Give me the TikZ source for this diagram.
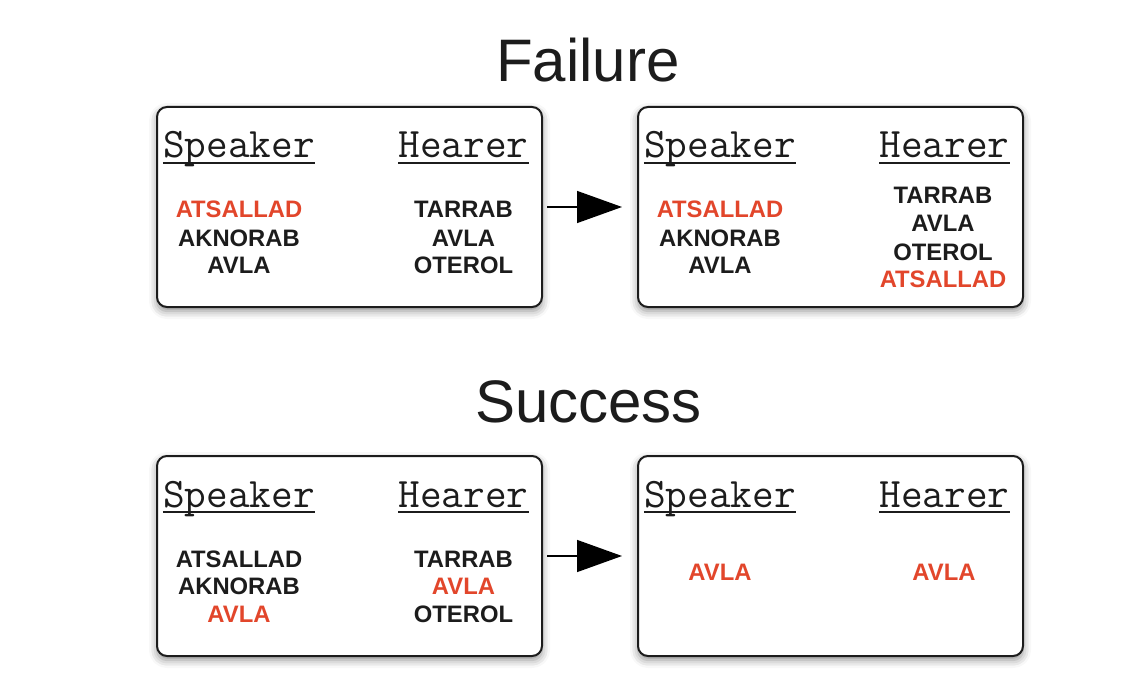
\documentclass[tikz,border=0pt]{standalone}
\usepackage{fontspec}
\setmainfont{Liberation Sans}
\usetikzlibrary{arrows.meta,shadows.blur}

\definecolor{inkblack}{RGB}{28,28,28}
\definecolor{wordred}{RGB}{226,70,43}

\tikzset{
  panel/.style={draw=inkblack,line width=1pt,rounded corners=5pt,fill=white,
    minimum width=192.5pt,minimum height=100pt,inner sep=0pt,
    blur shadow={shadow xshift=0pt,shadow yshift=-2pt,shadow blur radius=4pt,shadow opacity=45}},
  title/.style={font=\fontsize{30}{36}\selectfont,text=inkblack,anchor=base},
  hdr/.style={font=\ttfamily\fontsize{21}{25}\selectfont,text=inkblack,inner sep=0pt,anchor=base},
  word/.style={font=\bfseries\fontsize{11.9}{14}\selectfont,text=inkblack,inner sep=0pt,anchor=base},
  hot/.style={word,text=wordred},
  flow/.style={-{Triangle[length=22.5pt,width=16pt]},line width=0.7pt,draw=black}
}

\begin{document}
\begin{tikzpicture}[x=0.5pt,y=-0.5pt]
  \useasboundingbox (0,0) rectangle (1136,690);

  %==========================
  % Failure
  %==========================
  \node[title] (failT) at (588,82) {Failure};

  \node[panel] (fBefore) at (349.5,207) {};
  \node[panel] (fAfter)  at (830.5,207) {};

  % headers
  \node[hdr] (fbSp) at (239,158) {Speaker};
  \node[hdr] (fbHe) at (463.5,158) {Hearer};
  \node[hdr] (faSp) at (720,158) {Speaker};
  \node[hdr] (faHe) at (944.5,158) {Hearer};

  % before
  \node[hot]  (fb1) at (239,218) {ATSALLAD};
  \node[word] (fb2) at (239,246) {AKNORAB};
  \node[word] (fb3) at (239,273) {AVLA};
  \node[word] (fb4) at (463.5,218) {TARRAB};
  \node[word] (fb5) at (463.5,246) {AVLA};
  \node[word] (fb6) at (463.5,273) {OTEROL};

  % after
  \node[hot]  (fa1) at (720,218) {ATSALLAD};
  \node[word] (fa2) at (720,246) {AKNORAB};
  \node[word] (fa3) at (720,273) {AVLA};
  \node[word] (fa4) at (943,204) {TARRAB};
  \node[word] (fa5) at (943,232) {AVLA};
  \node[word] (fa6) at (943,260) {OTEROL};
  \node[hot]  (fa7) at (943,287) {ATSALLAD};

  \draw[flow] ([xshift=2pt]fBefore.east) -- ([xshift=-7.5pt]fAfter.west);

  %==========================
  % Success
  %==========================
  \node[title] (succT) at (588.5,422) {Success};

  \node[panel] (sBefore) at (349.5,556) {};
  \node[panel] (sAfter)  at (830.5,556) {};

  % headers
  \node[hdr] (sbSp) at (239,507) {Speaker};
  \node[hdr] (sbHe) at (463.5,507) {Hearer};
  \node[hdr] (saSp) at (720,507) {Speaker};
  \node[hdr] (saHe) at (944.5,507) {Hearer};

  % before
  \node[word] (sb1) at (239,567) {ATSALLAD};
  \node[word] (sb2) at (239,594) {AKNORAB};
  \node[hot]  (sb3) at (239,622) {AVLA};
  \node[word] (sb4) at (463.5,567) {TARRAB};
  \node[hot]  (sb5) at (463.5,594) {AVLA};
  \node[word] (sb6) at (463.5,622) {OTEROL};

  % after
  \node[hot] (sa1) at (720,580) {AVLA};
  \node[hot] (sa2) at (944,580) {AVLA};

  \draw[flow] ([xshift=2pt]sBefore.east) -- ([xshift=-7.5pt]sAfter.west);

  % underline the headers
  \foreach \h in {fbSp,fbHe,faSp,faHe,sbSp,sbHe,saSp,saHe} {
    \draw[inkblack,line width=0.7pt] ([yshift=-2.5pt]\h.base west) -- ([yshift=-2.5pt]\h.base east);
  }

\end{tikzpicture}
\end{document}
